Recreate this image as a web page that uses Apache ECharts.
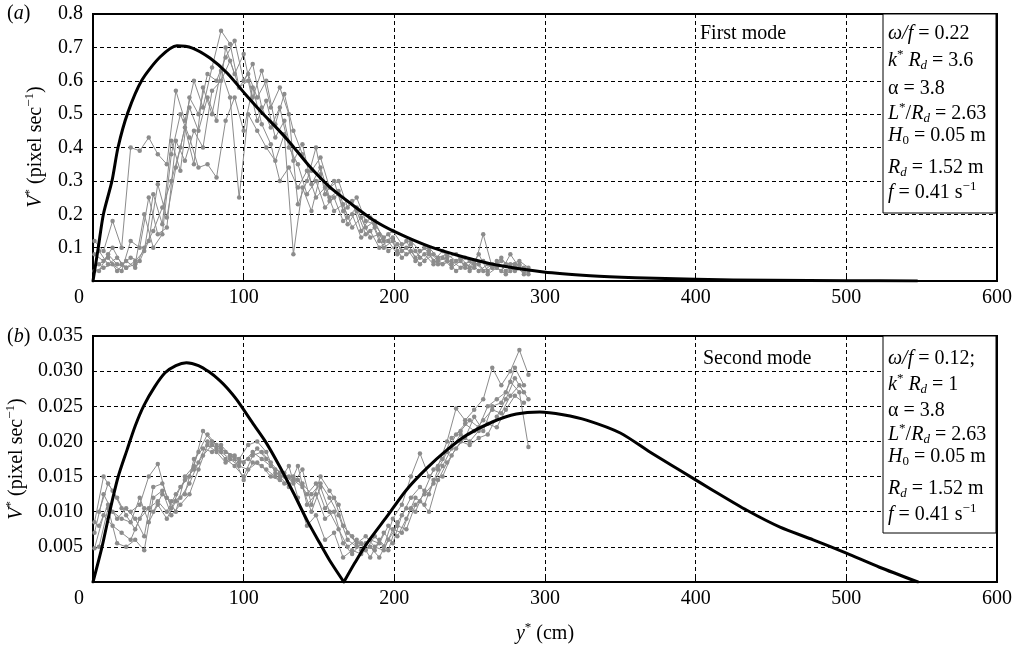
<!DOCTYPE html>
<html><head><meta charset="utf-8">
<script src="https://cdn.jsdelivr.net/npm/echarts@6/dist/echarts.min.js"></script>
<style>html,body{margin:0;padding:0;background:#fff}#c{width:1019px;height:651px}</style>
</head><body><div id="c"></div>
<script>
// ---------- DATA ----------
const xTicks = [0, 100, 200, 300, 400, 500, 600];
// model curves
const modelTopX = [0, 3.5, 6.9, 12.6, 16.6, 23, 32.5, 44.5, 55.7, 66, 77.6, 89, 102, 112, 122, 131, 144, 157, 170.5, 186, 202, 224, 246, 268, 299, 330, 360, 400, 450, 500, 547];
const modelTopV = [0, 0.10, 0.20, 0.30, 0.40, 0.503, 0.602, 0.671, 0.705, 0.698, 0.668, 0.623, 0.555, 0.505, 0.458, 0.413, 0.342, 0.282, 0.234, 0.183, 0.144, 0.102, 0.072, 0.048, 0.027, 0.016, 0.010, 0.005, 0.002, 0.001, 0];
// second-mode model: left arch (up to the cusp) and right arch (from the cusp)
const modelBotLeftX = [0, 6, 11.3, 16.6, 22.6, 28, 34, 41, 48, 55, 62, 70, 77, 84, 89, 95.5, 106, 115, 124, 133, 142, 150.6, 157, 166.5];
const modelBotLeftV = [0, 0.0050, 0.0102, 0.0149, 0.0188, 0.0222, 0.0252, 0.0278, 0.0298, 0.0308, 0.0312, 0.0308, 0.0299, 0.0287, 0.0276, 0.0259, 0.0226, 0.0198, 0.0164, 0.0127, 0.0088, 0.0055, 0.0031, 0];
const modelBotRightX = [166.5, 174, 181.8, 195, 208, 221.6, 235, 248, 265.4, 281, 296.6, 312, 328, 350, 369.6, 389.5, 411, 434, 456, 478, 500, 522, 547.5];
const modelBotRightV = [0, 0.0028, 0.0055, 0.0093, 0.0131, 0.0162, 0.0188, 0.0209, 0.0228, 0.0239, 0.0242, 0.0238, 0.0230, 0.0212, 0.0185, 0.0159, 0.0131, 0.0102, 0.0078, 0.0060, 0.0041, 0.0021, 0];
// measured traces: x positions
const xA = [1,7,13,19,25,31,37,43,49,55,61,67,73,79,85,91,97,103,109,115,121,127,133,139,145,151,157,163,169,175,181,187,193,199,205,211,217,223,229,235,241,247,253,259,265,271,277,283,289];
const xB = [4,10,16,22,28,34,40,46,52,58,64,70,76,82,88,94,100,106,112,118,124,130,136,142,148,154,160,166,172,178,184,190,196,202,208,214,220,226,232,238,244,250,256,262,268,274,280,286];
// first mode (panel a)
const topT1 = [0.12,0.09,0.18,0.10,0.40,0.39,0.43,0.38,0.35,0.57,0.48,0.60,0.52,0.64,0.75,0.71,0.58,0.62,0.55,0.60,0.47,0.56,0.45,0.38,0.33,0.37,0.28,0.30,0.22,0.25,0.18,0.17,0.13,0.15,0.11,0.12,0.09,0.10,0.07,0.08,0.06,0.07,0.05,0.06,0.04,0.06,0.05,0.06,0.04];
const topT2 = [0.05,0.07,0.03,0.06,0.04,0.10,0.15,0.22,0.30,0.40,0.52,0.45,0.55,0.48,0.70,0.62,0.68,0.55,0.63,0.52,0.58,0.50,0.23,0.30,0.40,0.26,0.30,0.21,0.24,0.15,0.19,0.12,0.14,0.09,0.12,0.07,0.10,0.06,0.09,0.05,0.07,0.04,0.08,0.03,0.06,0.03,0.05,0.02];
const topT3 = [0.08,0.06,0.10,0.05,0.07,0.06,0.12,0.29,0.19,0.34,0.46,0.35,0.58,0.50,0.63,0.55,0.25,0.50,0.45,0.40,0.36,0.44,0.08,0.28,0.21,0.32,0.24,0.26,0.17,0.21,0.14,0.16,0.10,0.12,0.07,0.09,0.05,0.08,0.05,0.06,0.03,0.05,0.04,0.14,0.04,0.07,0.03,0.05,0.03];
const topT4 = [0.03,0.08,0.05,0.04,0.06,0.09,0.26,0.17,0.42,0.33,0.55,0.50,0.62,0.60,0.67,0.72,0.60,0.65,0.52,0.46,0.52,0.40,0.35,0.26,0.30,0.22,0.25,0.18,0.20,0.13,0.15,0.10,0.12,0.08,0.10,0.06,0.08,0.05,0.07,0.04,0.06,0.03,0.05,0.02,0.04,0.02,0.04,0.03];
const topT5 = [0.03,0.04,0.05,0.03,0.12,0.10,0.25,0.14,0.16,0.42,0.36,0.45,0.40,0.57,0.60,0.66,0.58,0.60,0.48,0.54,0.43,0.48,0.36,0.41,0.29,0.34,0.25,0.27,0.19,0.22,0.16,0.18,0.12,0.13,0.09,0.11,0.07,0.09,0.06,0.07,0.08,0.04,0.06,0.03,0.05,0.03,0.08,0.04,0.02];
const topT6 = [0.09,0.05,0.07,0.04,0.05,0.20,0.10,0.14,0.38,0.50,0.43,0.34,0.35,0.31,0.48,0.55,0.45,0.58,0.47,0.41,0.30,0.34,0.28,0.33,0.25,0.28,0.21,0.23,0.16,0.19,0.13,0.14,0.09,0.11,0.08,0.09,0.06,0.08,0.05,0.06,0.04,0.06,0.03,0.05,0.04,0.05,0.03,0.04];
// second mode (panel b)
const botT1 = [0.0085,0.0150,0.0130,0.0105,0.0100,0.0110,0.0150,0.0168,0.0120,0.0100,0.0150,0.0165,0.0215,0.0200,0.0190,0.0180,0.0175,0.0195,0.0200,0.0185,0.0155,0.0150,0.0145,0.0135,0.0100,0.0135,0.0100,0.0075,0.0050,0.0060,0.0045,0.0065,0.0050,0.0090,0.0110,0.0150,0.0183,0.0150,0.0165,0.0200,0.0247,0.0230,0.0245,0.0260,0.0305,0.0280,0.0300,0.0330,0.0295];
const botT2 = [0.0050,0.0105,0.0055,0.0050,0.0060,0.0045,0.0120,0.0130,0.0095,0.0110,0.0125,0.0160,0.0195,0.0185,0.0170,0.0175,0.0145,0.0170,0.0165,0.0150,0.0145,0.0165,0.0120,0.0080,0.0095,0.0060,0.0070,0.0035,0.0045,0.0040,0.0050,0.0035,0.0060,0.0080,0.0075,0.0110,0.0125,0.0140,0.0165,0.0190,0.0210,0.0200,0.0215,0.0225,0.0220,0.0245,0.0265,0.0255];
const botT3 = [0.0048,0.0095,0.0080,0.0070,0.0060,0.0090,0.0105,0.0115,0.0100,0.0125,0.0145,0.0160,0.0180,0.0195,0.0185,0.0175,0.0165,0.0160,0.0170,0.0160,0.0150,0.0140,0.0150,0.0140,0.0125,0.0140,0.0120,0.0095,0.0060,0.0050,0.0055,0.0045,0.0070,0.0055,0.0095,0.0120,0.0135,0.0125,0.0160,0.0185,0.0210,0.0225,0.0215,0.0230,0.0245,0.0240,0.0265,0.0280,0.0260];
const botT4 = [0.0080,0.0110,0.0090,0.0105,0.0090,0.0065,0.0135,0.0140,0.0105,0.0135,0.0150,0.0185,0.0210,0.0195,0.0185,0.0180,0.0170,0.0185,0.0175,0.0165,0.0150,0.0135,0.0165,0.0110,0.0125,0.0090,0.0100,0.0055,0.0040,0.0055,0.0035,0.0060,0.0045,0.0085,0.0105,0.0100,0.0130,0.0160,0.0175,0.0205,0.0215,0.0230,0.0220,0.0250,0.0260,0.0270,0.0305,0.0280];
const botT5 = [0.0070,0.0125,0.0100,0.0090,0.0085,0.0120,0.0085,0.0110,0.0090,0.0115,0.0125,0.0175,0.0190,0.0185,0.0195,0.0180,0.0170,0.0175,0.0190,0.0175,0.0160,0.0155,0.0140,0.0160,0.0110,0.0150,0.0130,0.0110,0.0070,0.0055,0.0065,0.0050,0.0045,0.0075,0.0070,0.0105,0.0115,0.0100,0.0145,0.0170,0.0190,0.0205,0.0235,0.0215,0.0250,0.0255,0.0285,0.0270,0.0192];
const botT6 = [0.0100,0.0140,0.0120,0.0095,0.0075,0.0105,0.0100,0.0125,0.0115,0.0120,0.0140,0.0170,0.0200,0.0190,0.0175,0.0165,0.0150,0.0180,0.0185,0.0170,0.0155,0.0150,0.0145,0.0125,0.0140,0.0105,0.0120,0.0080,0.0065,0.0045,0.0060,0.0055,0.0080,0.0065,0.0090,0.0120,0.0110,0.0145,0.0150,0.0180,0.0200,0.0195,0.0205,0.0210,0.0235,0.0260,0.0290,0.0270];

// ---------- CHART ----------
const FF = 'Liberation Serif, Times New Roman, serif';
const FS = 20;
const chart = echarts.init(document.getElementById('c'), null, {renderer: 'canvas'});
const pair = (xs, ys) => ys.map((v, i) => [xs[i], v]);

const grids = [
  {left: 93, right: 22, top: 14, height: 267},
  {left: 93, right: 22, top: 336, height: 246}
];
grids.forEach(g => { g.show = true; g.borderColor = '#000'; g.borderWidth = 2; g.backgroundColor = '#fff'; });

const gridLine = {show: true, lineStyle: {color: '#000', width: 1, type: [4, 3]}};
function xAx(gi) {
  return {
    type: 'value', gridIndex: gi, min: 0, max: 600, interval: 100,
    axisLine: {show: true, onZero: false, lineStyle: {color: '#000', width: 2}},
    axisTick: {show: true, inside: true, length: 5, lineStyle: {color: '#000'}},
    splitLine: gridLine,
    axisLabel: {
      color: '#000', fontFamily: FF, fontSize: FS, margin: 7,
      formatter: v => v === 0 ? '{z|0}' : String(v),
      rich: {z: {fontFamily: FF, fontSize: FS, color: '#000', padding: [0, 28, 0, 0]}}
    }
  };
}
function yAx(gi, max, iv, dec) {
  return {
    type: 'value', gridIndex: gi, min: 0, max: max, interval: iv,
    axisLine: {show: true, lineStyle: {color: '#000', width: 2}},
    axisTick: {show: false},
    splitLine: gridLine,
    axisLabel: {color: '#000', fontFamily: FF, fontSize: FS, margin: 10,
      formatter: v => v === 0 ? '' : v.toFixed(dec)}
  };
}

const series = [];
const traceStyle = (xi, data) => ({
  type: 'line', xAxisIndex: xi, yAxisIndex: xi, data: data,
  symbol: 'circle', symbolSize: 4.5, showSymbol: true,
  lineStyle: {color: '#8c8c8c', width: 1},
  itemStyle: {color: '#8c8c8c'}, z: 2, animation: false
});
[[xA, topT1], [xB, topT2], [xA, topT3], [xB, topT4], [xA, topT5], [xB, topT6]].forEach(p => series.push(traceStyle(0, pair(p[0], p[1]))));
[[xA, botT1], [xB, botT2], [xA, botT3], [xB, botT4], [xA, botT5], [xB, botT6]].forEach(p => series.push(traceStyle(1, pair(p[0], p[1]))));
const modelStyle = {color: '#000', width: 3, join: 'round', cap: 'round'};
series.push({type: 'line', xAxisIndex: 0, yAxisIndex: 0, data: pair(modelTopX, modelTopV), showSymbol: false, smooth: 0.25,
  lineStyle: modelStyle, z: 5, animation: false});
series.push({type: 'line', xAxisIndex: 1, yAxisIndex: 1, data: pair(modelBotLeftX, modelBotLeftV), showSymbol: false, smooth: 0.25,
  lineStyle: modelStyle, z: 5, animation: false});
series.push({type: 'line', xAxisIndex: 1, yAxisIndex: 1, data: pair(modelBotRightX, modelBotRightV), showSymbol: false, smooth: 0.25,
  lineStyle: modelStyle, z: 5, animation: false});

const R = {
  n: {fontFamily: FF, fontSize: FS, color: '#000', verticalAlign: 'middle'},
  i: {fontFamily: FF, fontSize: FS, color: '#000', fontStyle: 'italic', verticalAlign: 'middle'},
  sub: {fontFamily: FF, fontSize: 13, color: '#000', fontStyle: 'italic', padding: [10, 0, 0, 0], verticalAlign: 'middle'},
  subn: {fontFamily: FF, fontSize: 13, color: '#000', padding: [10, 0, 0, 0], verticalAlign: 'middle'},
  sup: {fontFamily: FF, fontSize: 13, color: '#000', padding: [0, 0, 12, 0], verticalAlign: 'middle'}
};
function txt(x, y, t, align) {
  return {type: 'text', x: x, y: y, z: 100,
    style: {text: t, rich: R, fontFamily: FF, fontSize: FS, fill: '#000', textAlign: align || 'left', textVerticalAlign: 'middle'}};
}
function box(y0, y1) {
  return {type: 'rect', z: 90, shape: {x: 883, y: y0, width: 113, height: y1 - y0},
    style: {fill: '#fff', stroke: '#000', lineWidth: 1}};
}
const paramLines = (first, second) => [
  first,
  second,
  '{n|α = 3.8}',
  '{i|L}{sup|*}{n|/}{i|R}{sub|d}{n| = 2.63}',
  '{i|H}{subn|0}{n| = 0.05 m}',
  '{i|R}{sub|d}{n| = 1.52 m}',
  '{i|f}{n| = 0.41 s}{sup|−1}'
];
const topY = [34, 61, 89, 114, 136, 168, 193];
const botY = [359, 385, 411, 435, 457, 489, 515];
const graphics = [box(14, 213), box(336, 533)];
paramLines('{i|ω/f}{n| = 0.22}', '{i|k}{sup|*}{n| }{i|R}{sub|d}{n| = 3.6}').forEach((t, k) => graphics.push(txt(888, topY[k], t)));
paramLines('{i|ω/f}{n| = 0.12;}', '{i|k}{sup|*}{n| }{i|R}{sub|d}{n| = 1}').forEach((t, k) => graphics.push(txt(888, botY[k], t)));
graphics.push(txt(700, 34, '{n|First mode}'));
graphics.push(txt(703, 359, '{n|Second mode}'));
graphics.push(txt(7, 14, '{n|(}{i|a}{n|)}'));
graphics.push(txt(7, 337, '{n|(}{i|b}{n|)}'));
const yName = '{i|V}{sup|*}{n| (pixel sec}{sup|−1}{n|)}';
const n1 = txt(36, 147, yName, 'center'); n1.rotation = Math.PI / 2; graphics.push(n1);
const n2 = txt(17, 459, yName, 'center'); n2.rotation = Math.PI / 2; graphics.push(n2);
graphics.push(txt(545, 634, '{i|y}{sup|*}{n| (cm)}', 'center'));

chart.setOption({
  animation: false,
  backgroundColor: '#fff',
  grid: grids,
  xAxis: [xAx(0), xAx(1)],
  yAxis: [yAx(0, 0.8, 0.1, 1), yAx(1, 0.035, 0.005, 3)],
  series: series,
  graphic: graphics
});
</script>
</body></html>
